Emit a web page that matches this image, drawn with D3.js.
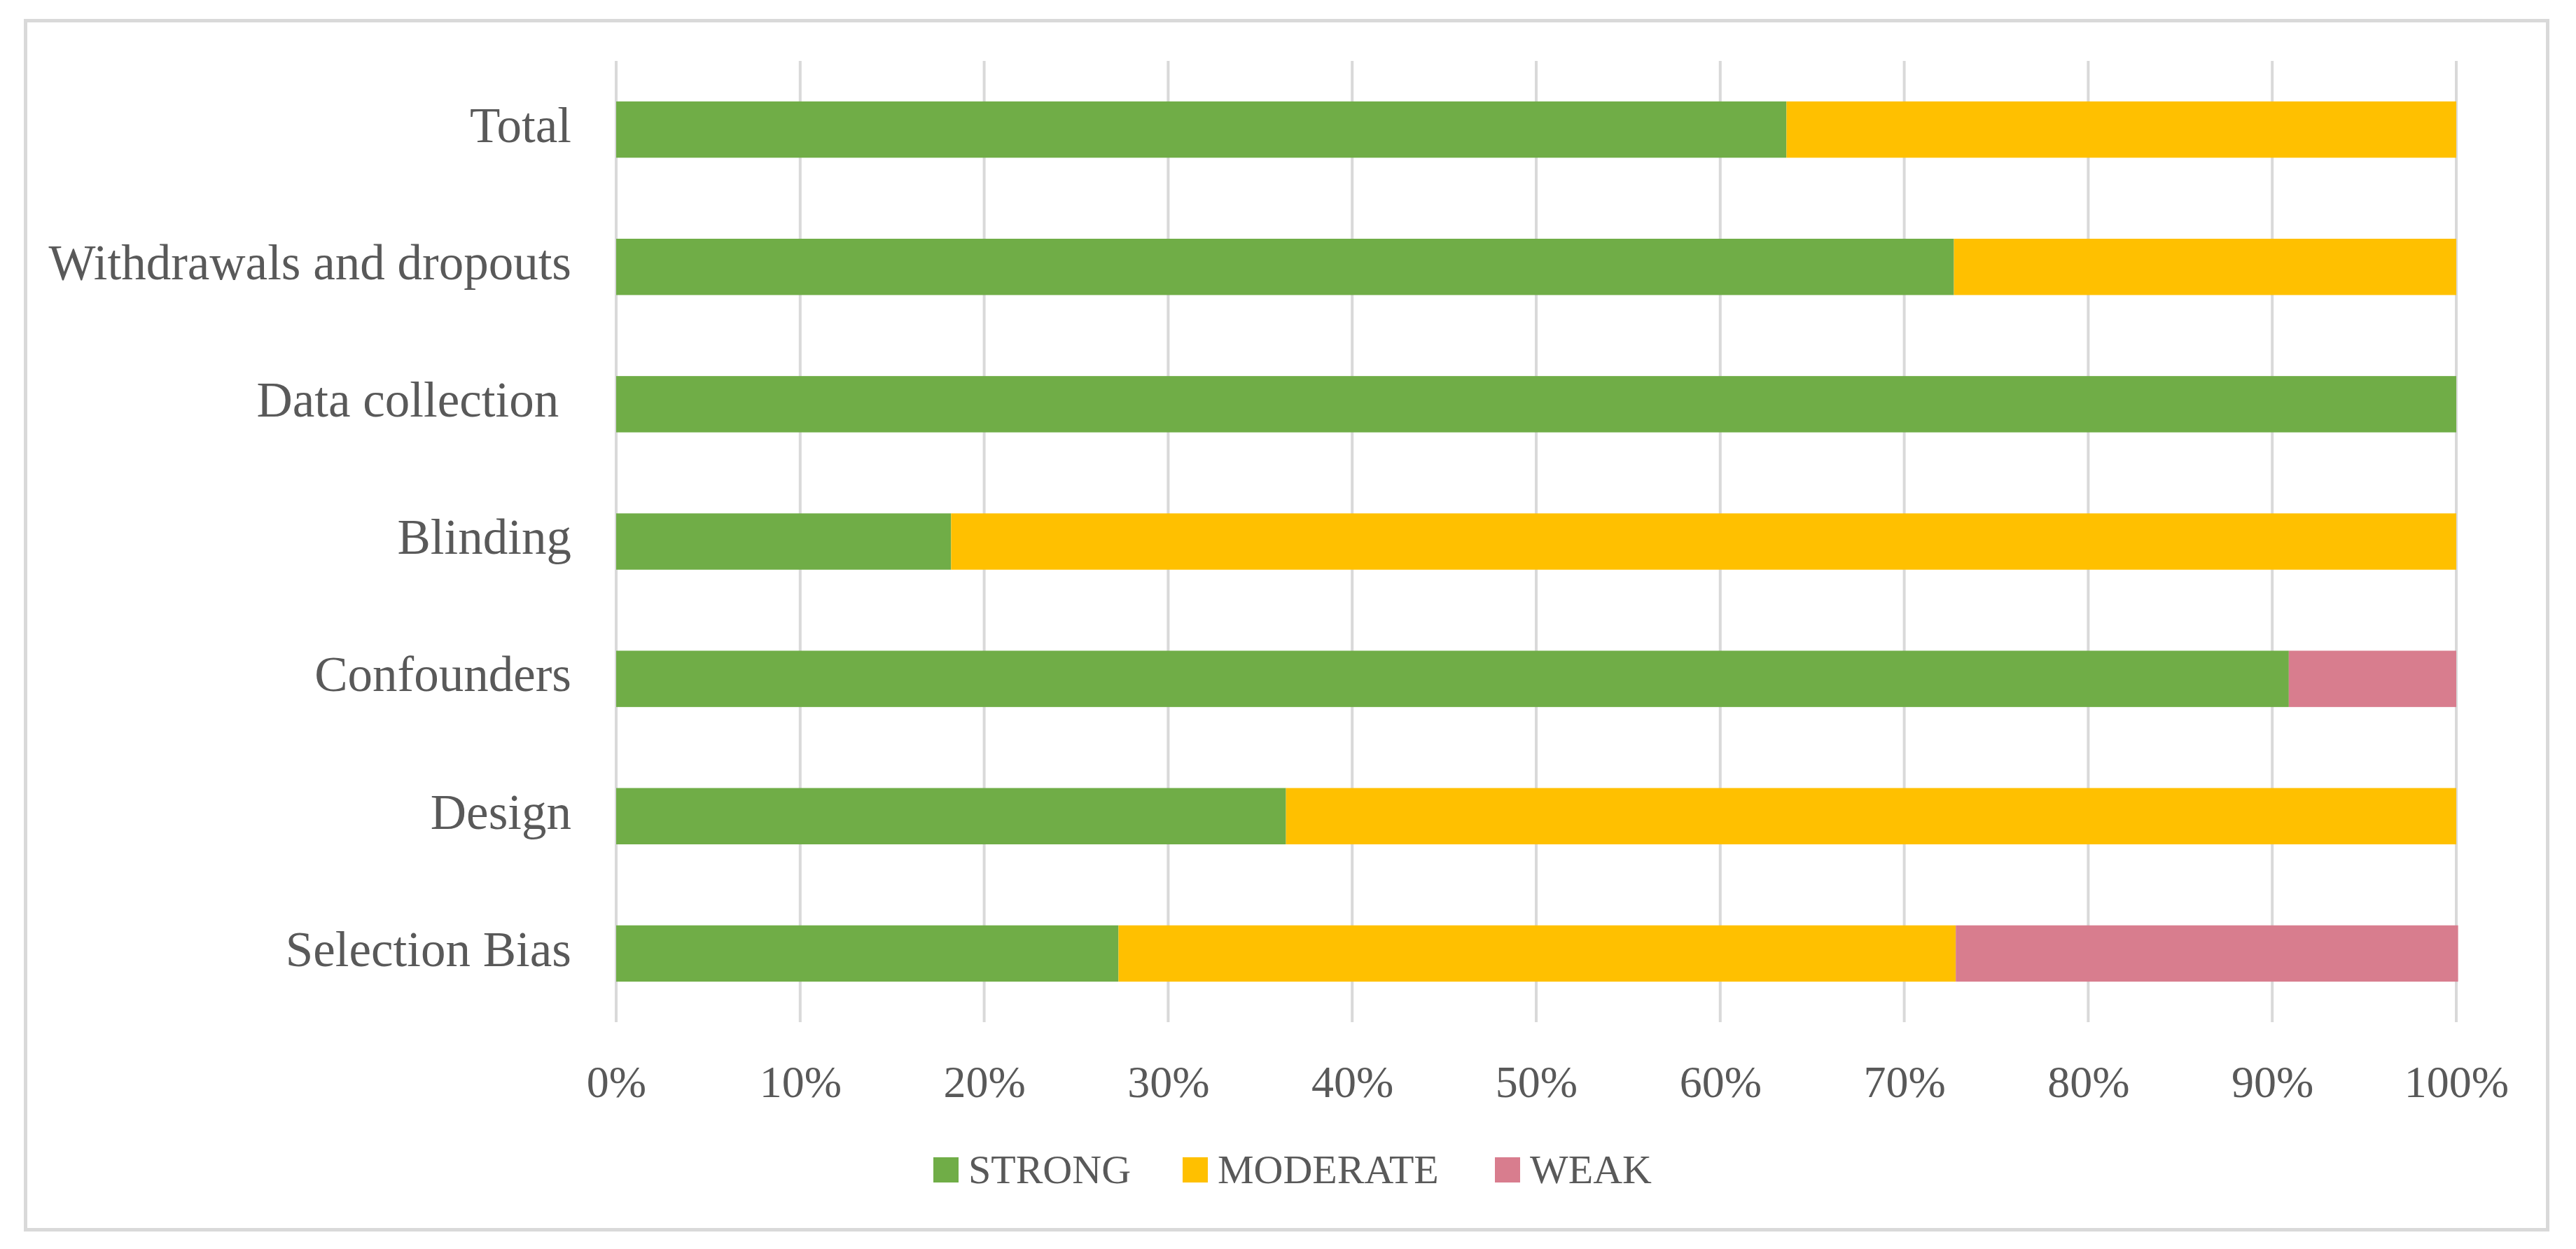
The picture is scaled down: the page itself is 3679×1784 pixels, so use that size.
<!DOCTYPE html>
<html>
<head>
<meta charset="utf-8">
<script src="https://cdn.jsdelivr.net/npm/d3@7"></script>
<style>
  html, body { margin: 0; padding: 0; background: #ffffff; }
  svg { display: block; }
  text { font-family: "Palatino Linotype", "Book Antiqua", Palatino, "Liberation Serif", "DejaVu Serif", serif; fill: #595959; }
</style>
</head>
<body>
<svg id="chart" width="3679" height="1784"></svg>
<script>
// ---- data (percent of studies) ----
const categories = ["Total", "Withdrawals and dropouts", "Data collection ", "Blinding", "Confounders", "Design", "Selection Bias"];
const seriesNames = ["STRONG", "MODERATE", "WEAK"];
const strong   = [63.6, 72.7, 100, 18.2, 90.9, 36.4, 27.3];
const moderate = [36.4, 27.3, 0, 81.8, 0, 63.6, 45.5];
const weak     = [0, 0, 0, 0, 9.1, 0, 27.3];
const tickValues = [0, 10, 20, 30, 40, 50, 60, 70, 80, 90, 100];
const colors = ["#70AD47", "#FFC000", "#D87D8E"];

const svg = d3.select("#chart");

// outer border
svg.append("rect")
  .attr("x", 36.5).attr("y", 29.5)
  .attr("width", 3602).attr("height", 1727)
  .attr("fill", "#ffffff")
  .attr("stroke", "#d9d9d9").attr("stroke-width", 5);

const x = d3.scaleLinear().domain([0, 100]).range([880, 3508]);
const y = d3.scaleBand().domain(categories).range([87, 1460]).paddingInner(0.59).paddingOuter(0.295);

// gridlines
svg.append("g")
  .selectAll("line").data(tickValues).join("line")
  .attr("x1", d => x(d)).attr("x2", d => x(d))
  .attr("y1", 87).attr("y2", 1460)
  .attr("stroke", "#d9d9d9").attr("stroke-width", 4);

// stacked bars
const rows = categories.map((c, i) => ({ cat: c, STRONG: strong[i], MODERATE: moderate[i], WEAK: weak[i] }));
const stack = d3.stack().keys(seriesNames)(rows);
svg.append("g").selectAll("g").data(stack).join("g")
  .attr("fill", (d, i) => colors[i])
  .selectAll("rect").data(d => d).join("rect")
  .attr("x", d => x(d[0]))
  .attr("width", d => Math.max(0, x(d[1]) - x(d[0])))
  .attr("y", d => y(d.data.cat))
  .attr("height", y.bandwidth());

// category labels
const yAxis = svg.append("g")
  .attr("transform", `translate(${x(0)},0)`)
  .call(d3.axisLeft(y).tickSize(0).tickPadding(64));
yAxis.select(".domain").remove();
yAxis.selectAll("text")
  .attr("font-size", 71)
  .attr("dy", "0.25em")
  .style("white-space", "pre")
  .attr("fill", "#595959")
  .attr("font-family", null);

// x tick labels
const xAxis = svg.append("g")
  .attr("transform", `translate(0,1460)`)
  .call(d3.axisBottom(x).tickValues(tickValues).tickFormat(d => d + "%").tickSize(0).tickPadding(62));
xAxis.select(".domain").remove();
xAxis.selectAll("text")
  .attr("font-size", 64)
  .attr("fill", "#595959")
  .attr("font-family", null);

// legend
const legendX = [1333, 1689, 2135];
const lg = svg.append("g");
seriesNames.forEach((s, i) => {
  lg.append("rect")
    .attr("x", legendX[i]).attr("y", 1653)
    .attr("width", 36).attr("height", 36)
    .attr("fill", colors[i]);
  lg.append("text")
    .attr("x", legendX[i] + 50).attr("y", 1690)
    .attr("font-size", 58)
    .text(s);
});
</script>
</body>
</html>
